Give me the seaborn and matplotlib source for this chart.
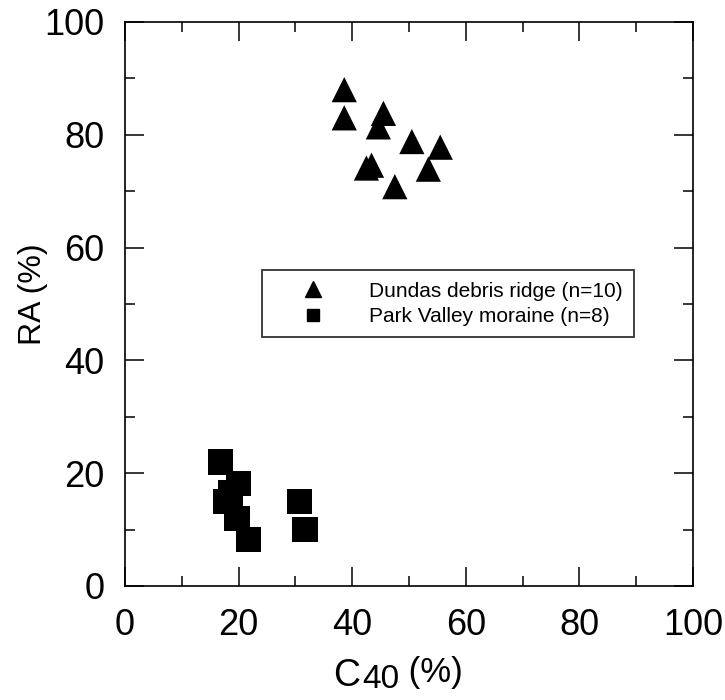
import pandas as pd
import matplotlib
matplotlib.use("Agg")
import matplotlib.pyplot as plt
import seaborn as sns
from matplotlib.lines import Line2D
from matplotlib.ticker import MultipleLocator

## values
dundas_c40 = [38.6, 38.6, 45.5, 44.6, 50.5, 55.5, 53.4, 43.4, 42.5, 47.5]
dundas_ra = [88.0, 83.0, 83.8, 81.4, 78.8, 77.8, 73.9, 74.6, 74.1, 70.8]
park_c40 = [16.8, 20.0, 17.8, 19.7, 21.7, 30.7, 31.7, 18.6]
park_ra = [22.0, 18.2, 15.0, 12.0, 8.2, 15.0, 10.0, 16.5]
groups = ["Dundas debris ridge (n=10)", "Park Valley moraine (n=8)"]

df = pd.DataFrame({
    "C40": dundas_c40 + park_c40,
    "RA": dundas_ra + park_ra,
    "site": [groups[0]] * len(dundas_c40) + [groups[1]] * len(park_c40),
})

sns.set_style("ticks")
plt.rcParams['font.family'] = ['Liberation Sans', 'DejaVu Sans']
plt.rcParams['text.color'] = 'black'
plt.rcParams['xtick.color'] = 'black'
plt.rcParams['ytick.color'] = 'black'
plt.rcParams['axes.labelcolor'] = 'black'

fig = plt.figure(figsize=(7.25, 7.0), dpi=100)
ax = fig.add_axes([0.1724, 0.1629, 0.7835, 0.8057])

sns.scatterplot(data=df, x="C40", y="RA", style="site",
                markers={groups[0]: "^", groups[1]: "s"},
                color="black", s=330, linewidth=0, ax=ax, legend=False)

ax.set_xlim(0, 100)
ax.set_ylim(0, 100)
ax.xaxis.set_major_locator(MultipleLocator(20))
ax.xaxis.set_minor_locator(MultipleLocator(10))
ax.yaxis.set_major_locator(MultipleLocator(20))
ax.yaxis.set_minor_locator(MultipleLocator(10))
ax.tick_params(which='both', direction='in', top=True, right=True,
               width=1.1, color='black')
ax.tick_params(which='major', length=14, labelsize=26)
ax.tick_params(axis='x', which='major', pad=16)
ax.tick_params(axis='y', which='major', pad=15)
ax.tick_params(which='minor', length=7)
for sp in ax.spines.values():
    sp.set_linewidth(1.2)
    sp.set_color('black')

ax.set_xlabel("")
ax.set_ylabel("RA (%)", fontsize=23)
ax.yaxis.set_label_coords(-0.135, 0.518)

# x label with lowered "40"
tc = ax.text(0.366, -0.128, "C", transform=ax.transAxes, fontsize=27,
             ha='left', va='top')
t40 = ax.annotate("40", xy=(1.08, -0.02), xycoords=tc, fontsize=24,
                  ha='left', va='bottom')
ax.annotate(" (%)", xy=(1.0, 0.2), xycoords=t40, fontsize=25,
            ha='left', va='bottom')

handles = [
    Line2D([], [], marker='^', color='black', linestyle='none', markersize=11),
    Line2D([], [], marker='s', color='black', linestyle='none', markersize=9),
]
leg = ax.legend(handles, groups, loc='upper left', bbox_to_anchor=(0.241, 0.56),
                fontsize=15, frameon=True, fancybox=False, borderpad=0.55,
                handletextpad=0.8, handlelength=3.8, labelspacing=0.3,
                borderaxespad=0)
leg.get_frame().set_edgecolor('black')
leg.get_frame().set_linewidth(1.3)

fig.savefig("out.png", dpi=100)
